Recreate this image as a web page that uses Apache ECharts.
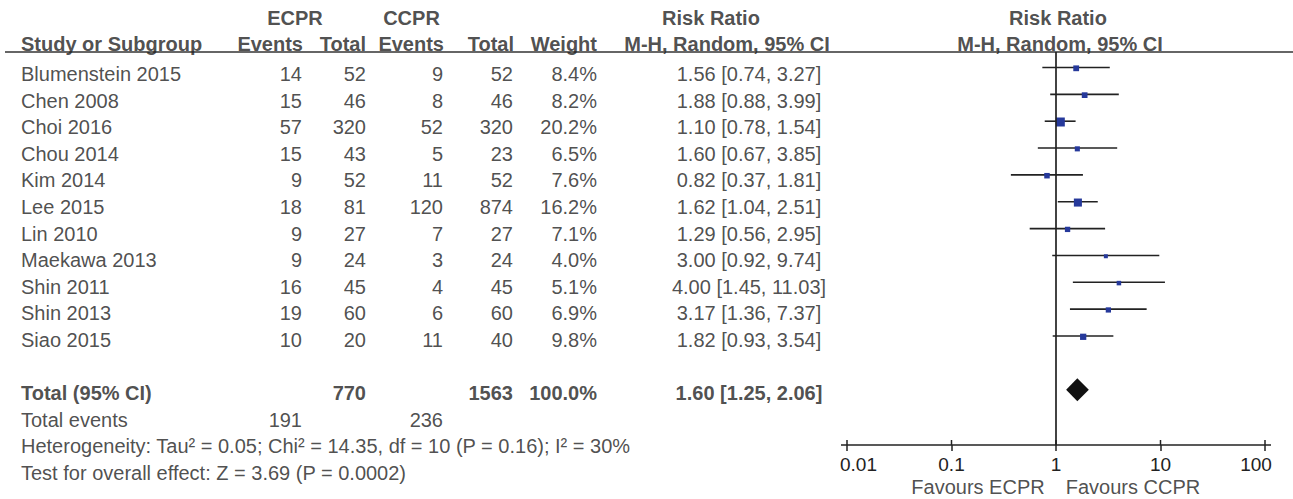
<!DOCTYPE html>
<html>
<head>
<meta charset="utf-8">
<script src="https://cdn.jsdelivr.net/npm/echarts@6/dist/echarts.min.js"></script>
<style>
html,body{margin:0;padding:0;background:#fff;}
#chart{width:1293px;height:499px;}
</style>
</head>
<body>
<div id="chart"></div>
<script>
// ---------------- data ----------------
const studies = ['Blumenstein 2015','Chen 2008','Choi 2016','Chou 2014','Kim 2014','Lee 2015','Lin 2010','Maekawa 2013','Shin 2011','Shin 2013','Siao 2015'];
const ecprEvents = [14,15,57,15,9,18,9,9,16,19,10];
const ecprTotal  = [52,46,320,43,52,81,27,24,45,60,20];
const ccprEvents = [9,8,52,5,11,120,7,3,4,6,11];
const ccprTotal  = [52,46,320,23,52,874,27,24,45,60,40];
const weights    = [8.4,8.2,20.2,6.5,7.6,16.2,7.1,4.0,5.1,6.9,9.8];
const riskRatio  = [1.56,1.88,1.10,1.60,0.82,1.62,1.29,3.00,4.00,3.17,1.82];
const ciLow      = [0.74,0.88,0.78,0.67,0.37,1.04,0.56,0.92,1.45,1.36,0.93];
const ciHigh     = [3.27,3.99,1.54,3.85,1.81,2.51,2.95,9.74,11.03,7.37,3.54];
const pooled     = [1.60,1.25,2.06];           // RR, low, high
const totalN     = [770,1563];                 // ECPR total, CCPR total
const totalWeight = 100.0;
const totalEvents = [191,236];                 // ECPR, CCPR
const heterogeneityText = 'Heterogeneity: Tau² = 0.05; Chi² = 14.35, df = 10 (P = 0.16); I² = 30%';
const overallText = 'Test for overall effect: Z = 3.69 (P = 0.0002)';
const tickValues = [0.01,0.1,1,10,100];
const tickLabels = ['0.01','0.1','1','10','100'];
const favourLabels = ['Favours ECPR','Favours CCPR'];

// ---------------- layout ----------------
const FONT = 'Liberation Sans, Arial, Helvetica, sans-serif';
const TXT = '#222222';
const W = 1293, H = 499;
const rowTextY0 = 74, rowTextStep = 26.6;
const markY0 = 67.5, markStep = 26.85;
const plotTop = 52, plotBottom = 445, plotLeft = 847, plotRight = 1265;
const col = {name:21, eEv:302, eTot:366, cEv:443, cTot:513, w:597, rr:749};
const fmt2 = v => v.toFixed(2);
const ciText = (r,l,h) => fmt2(r) + ' [' + fmt2(l) + ', ' + fmt2(h) + ']';

const cells = [];
function cell(x, y, text, align, bold) {
  cells.push({value:[x, y], label:{formatter:String(text), align:align, fontWeight: bold ? 'bold' : 'normal'}});
}
// header rows
const h1 = 18, h2 = 43.5;
cell(295, h1, 'ECPR', 'center', true);
cell(411.5, h1, 'CCPR', 'center', true);
cell(711, h1, 'Risk Ratio', 'center', true);
cell(1058, h1, 'Risk Ratio', 'center', true);
cell(col.name, h2, 'Study or Subgroup', 'left', true);
cell(col.eEv + 1, h2, 'Events', 'right', true);
cell(col.eTot, h2, 'Total', 'right', true);
cell(col.cEv + 1, h2, 'Events', 'right', true);
cell(col.cTot + 1, h2, 'Total', 'right', true);
cell(col.w, h2, 'Weight', 'right', true);
cell(727, h2, 'M-H, Random, 95% CI', 'center', true);
cell(1060, h2, 'M-H, Random, 95% CI', 'center', true);
// study rows
studies.forEach((s, i) => {
  const y = rowTextY0 + rowTextStep * i;
  cell(col.name, y, s, 'left');
  cell(col.eEv, y, ecprEvents[i], 'right');
  cell(col.eTot, y, ecprTotal[i], 'right');
  cell(col.cEv, y, ccprEvents[i], 'right');
  cell(col.cTot, y, ccprTotal[i], 'right');
  cell(col.w, y, weights[i].toFixed(1) + '%', 'right');
  cell(col.rr, y, ciText(riskRatio[i], ciLow[i], ciHigh[i]), 'center');
});
const totalRow = studies.length + 1;
let y = rowTextY0 + rowTextStep * totalRow;
cell(col.name, y, 'Total (95% CI)', 'left', true);
cell(col.eTot, y, totalN[0], 'right', true);
cell(col.cTot, y, totalN[1], 'right', true);
cell(col.w, y, totalWeight.toFixed(1) + '%', 'right', true);
cell(col.rr, y, ciText(pooled[0], pooled[1], pooled[2]), 'center', true);
y = rowTextY0 + rowTextStep * (totalRow + 1);
cell(col.name, y, 'Total events', 'left');
cell(col.eEv, y, totalEvents[0], 'right');
cell(col.cEv, y, totalEvents[1], 'right');
y = rowTextY0 + rowTextStep * (totalRow + 2);
cell(col.name, y, heterogeneityText, 'left');
y = rowTextY0 + rowTextStep * (totalRow + 3);
cell(col.name, y, overallText, 'left');
cell(978, 487, favourLabels[0], 'center');
cell(1133, 487, favourLabels[1], 'center');

const yMin = -(markY0 - plotTop) / markStep;
const yMax = (plotBottom - markY0) / markStep;

const studyData = studies.map((s, i) => [riskRatio[i], ciLow[i], ciHigh[i], i, weights[i]]);
const pooledData = [[pooled[0], pooled[1], pooled[2], totalRow]];

const chart = echarts.init(document.getElementById('chart'), null, {renderer:'svg', width:W, height:H});
chart.setOption({
  animation:false,
  backgroundColor:'#ffffff',
  textStyle:{fontFamily:FONT},
  grid:[
    {left:plotLeft, width:plotRight - plotLeft, top:plotTop, height:plotBottom - plotTop, containLabel:false},
    {left:0, top:0, width:W, height:H, containLabel:false}
  ],
  xAxis:[
    {type:'log', logBase:10, min:0.01, max:100, splitNumber:4, gridIndex:0, position:'bottom',
     axisLine:{show:false, onZero:false},
     axisTick:{show:true, inside:false, length:6, lineStyle:{color:'#222', width:1.5}},
     splitLine:{show:false},
     axisLabel:{show:true, margin:10, color:TXT, fontSize:19, fontFamily:FONT,
       formatter:function(v){
         const k = tickValues.findIndex(t => Math.abs(Math.log10(t) - Math.log10(v)) < 1e-6);
         if (k < 0) return '';
         if (k === 0) return '{first|' + tickLabels[k] + '}';
         if (k === tickLabels.length - 1) return '{last|' + tickLabels[k] + '}';
         return '{n|' + tickLabels[k] + '}';
       },
       rich:{
         first:{fontSize:19, color:TXT, fontFamily:FONT, padding:[0,0,0,23]},
         last:{fontSize:19, color:TXT, fontFamily:FONT, padding:[0,18,0,0]},
         n:{fontSize:19, color:TXT, fontFamily:FONT}
       }}},
    {type:'value', min:0, max:W, gridIndex:1, show:false, axisLine:{onZero:false}}
  ],
  yAxis:[
    {type:'value', inverse:true, min:yMin, max:yMax, gridIndex:0, show:false, axisLine:{onZero:false}},
    {type:'value', inverse:true, min:0, max:H, gridIndex:1, show:false, axisLine:{onZero:false}}
  ],
  graphic:[
    {type:'line', silent:true, shape:{x1:5, y1:plotTop, x2:W, y2:plotTop}, style:{stroke:'#333', lineWidth:1.5}},
    {type:'line', silent:true, shape:{x1:plotLeft - 6, y1:plotBottom, x2:plotRight + 6, y2:plotBottom}, style:{stroke:'#222', lineWidth:1.5}}
  ],
  series:[
    {
      type:'custom', xAxisIndex:0, yAxisIndex:0, silent:true,
      data:studyData,
      renderItem:function(params, api){
        const c = api.coord([api.value(0), api.value(3)]);
        const lo = api.coord([api.value(1), api.value(3)]);
        const hi = api.coord([api.value(2), api.value(3)]);
        const s = 2.0 * Math.sqrt(api.value(4));
        return {type:'group', children:[
          {type:'line', shape:{x1:lo[0], y1:c[1], x2:hi[0], y2:c[1]}, style:{stroke:'#222', lineWidth:1.6}},
          {type:'rect', shape:{x:c[0]-s/2, y:c[1]-s/2+0.8, width:s, height:s}, style:{fill:'#26399b'}}
        ]};
      },
      markLine:{silent:true, symbol:['none','none'], label:{show:false},
        lineStyle:{color:'#222', width:1.7, type:'solid'},
        data:[{xAxis:1}]}
    },
    {
      type:'custom', xAxisIndex:0, yAxisIndex:0, silent:true,
      data:pooledData,
      renderItem:function(params, api){
        const c = api.coord([api.value(0), api.value(3)]);
        const lo = api.coord([api.value(1), api.value(3)]);
        const hi = api.coord([api.value(2), api.value(3)]);
        const hh = 11.5;
        return {type:'polygon', shape:{points:[[lo[0],c[1]],[c[0],c[1]-hh],[hi[0],c[1]],[c[0],c[1]+hh]]},
          style:{fill:'#111'}};
      }
    },
    {
      // upper halves of the crossing axis ticks
      type:'custom', xAxisIndex:0, yAxisIndex:0, silent:true, clip:false,
      data:tickValues.map(v => [v, yMax]),
      renderItem:function(params, api){
        const p = api.coord([api.value(0), api.value(1)]);
        return {type:'line', shape:{x1:p[0], y1:p[1]-5, x2:p[0], y2:p[1]}, style:{stroke:'#222', lineWidth:1.5}};
      }
    },
    {
      type:'scatter', xAxisIndex:1, yAxisIndex:1, silent:true,
      symbolSize:0.1, itemStyle:{color:'rgba(0,0,0,0)'},
      label:{show:true, position:'inside', verticalAlign:'middle', color:TXT, fontSize:20, fontFamily:FONT},
      data:cells
    }
  ]
});
</script>
</body>
</html>
